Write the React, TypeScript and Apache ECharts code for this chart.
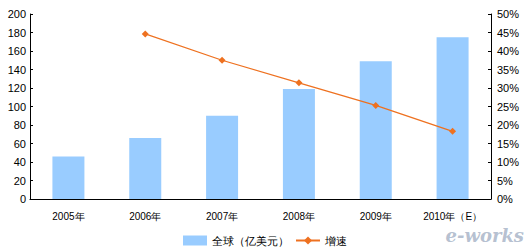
import React, { useEffect, useRef } from "react";
import * as echarts from "echarts";

const categories = ["2005年", "2006年", "2007年", "2008年", "2009年", "2010年（E）"];
const globalValues = [46, 66, 90, 119, 149, 175];
const growthValues: (number | null)[] = [null, 44.6, 37.5, 31.4, 25.3, 18.3];

export default function App() {
  const ref = useRef<HTMLDivElement>(null);
  useEffect(() => {
    if (!ref.current) return;
    const chart = echarts.init(ref.current, null, { renderer: "svg" });
    const font = "Liberation Sans, Arial, sans-serif";
    chart.setOption({
      animation: false,
      textStyle: { fontFamily: font },
      grid: { left: 30, right: 41, top: 14, bottom: 51 },
      legend: {
        top: 230,
        left: 178,
        itemGap: 6,
        itemWidth: 24,
        itemHeight: 10,
        textStyle: { fontSize: 11, color: "#000", fontFamily: font },
        data: [
          { name: "全球（亿美元）", icon: "rect" },
          { name: "增速" },
        ],
      },
      xAxis: {
        type: "category",
        data: categories,
        axisLine: { lineStyle: { color: "#000" } },
        axisTick: { inside: true, length: 3, lineStyle: { color: "#000" } },
        axisLabel: { color: "#000", fontSize: 10, margin: 12 },
      },
      yAxis: [
        {
          type: "value",
          min: 0,
          max: 200,
          interval: 20,
          splitLine: { show: false },
          axisLine: { show: true, lineStyle: { color: "#000" } },
          axisTick: { show: true, inside: true, length: 3, lineStyle: { color: "#000" } },
          axisLabel: { color: "#000", fontSize: 11, margin: 4 },
        },
        {
          type: "value",
          min: 0,
          max: 50,
          interval: 5,
          position: "right",
          splitLine: { show: false },
          axisLine: { show: true, lineStyle: { color: "#000" } },
          axisTick: { show: true, inside: true, length: 3, lineStyle: { color: "#000" } },
          axisLabel: { color: "#000", fontSize: 11, margin: 6, formatter: "{value}%" },
        },
      ],
      series: [
        {
          name: "全球（亿美元）",
          type: "bar",
          data: globalValues,
          barWidth: 32,
          itemStyle: { color: "#99CCFF" },
        },
        {
          name: "增速",
          type: "line",
          yAxisIndex: 1,
          data: growthValues,
          symbol: "diamond",
          symbolSize: 7,
          lineStyle: { color: "#EE7120", width: 1.3 },
          itemStyle: { color: "#EE7120" },
        },
      ],
      graphic: [
        {
          type: "text",
          right: 8,
          bottom: 6,
          style: {
            text: "e-works",
            fontSize: 18,
            fontStyle: "italic",
            fontWeight: "bold",
            fontFamily: "DejaVu Serif, serif",
            fill: "rgba(120,140,170,0.55)",
          },
        },
      ],
    });
    return () => chart.dispose();
  }, []);
  return (
    <div
      ref={ref}
      style={{ position: "absolute", left: 0, top: 0, width: 532, height: 250 }}
    />
  );
}
